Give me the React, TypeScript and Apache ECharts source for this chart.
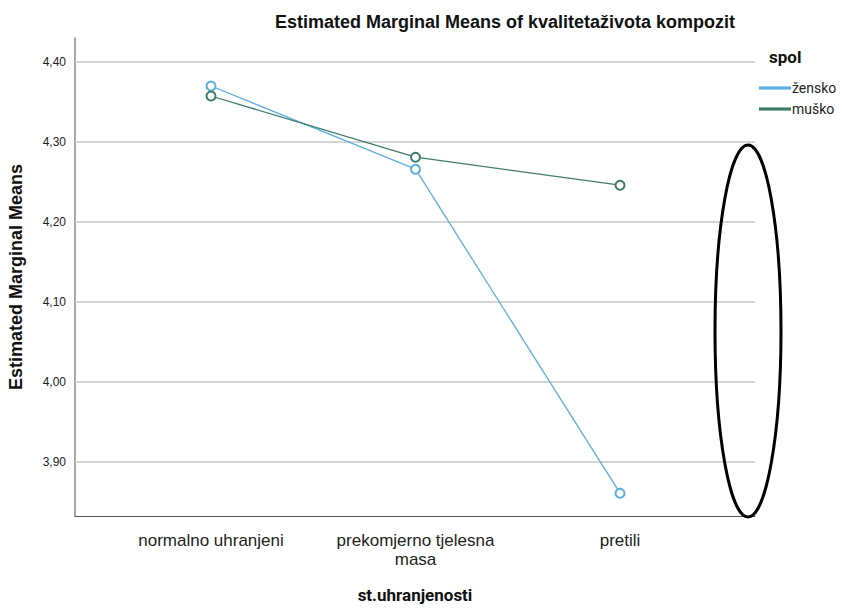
import React, { useEffect, useRef } from "react";
import * as echarts from "echarts";

const categories = ["normalno uhranjeni", "prekomjerno tjelesna\nmasa", "pretili"];
const zenskoValues = [4.37, 4.266, 3.861];
const muskoValues = [4.3575, 4.281, 4.246];
const seriesNames = ["žensko", "muško"];
const yTicks = [3.9, 4.0, 4.1, 4.2, 4.3, 4.4];

const ZENSKO_COLOR = "#5aaee0";
const MUSKO_COLOR = "#3e7d6c";

export default function App() {
  const ref = useRef<HTMLDivElement>(null);
  useEffect(() => {
    if (!ref.current) return;
    const chart = echarts.init(ref.current, null, { renderer: "svg" });
    const font = "Liberation Sans, Arial, sans-serif";
    const toPairs = (vals: number[]) => vals.map((v, i) => [i, v]);
    chart.setOption({
      animation: false,
      backgroundColor: "#ffffff",
      title: {
        text: "Estimated Marginal Means of kvalitetaživota kompozit",
        left: 500,
        top: 8,
        textAlign: "center",
        textStyle: { fontFamily: font, fontWeight: "bold", fontSize: 18, color: "#111" },
      },
      grid: { left: 75, right: 842 - 755, top: 38, bottom: 608 - 516, outerBoundsMode: "none", containLabel: false },
      legend: {
        orient: "vertical",
        left: 754,
        top: 76,
        icon: "rect",
        itemWidth: 30,
        itemHeight: 1.2,
        itemGap: 7,
        data: seriesNames,
        textStyle: { fontFamily: "Roboto, sans-serif", fontSize: 14, color: "#222", padding: [0, 0, 0, -3] },
      },
      xAxis: {
        type: "value",
        min: -0.665,
        max: 2.66,
        splitLine: { show: false },
        axisLine: { show: true, onZero: false, lineStyle: { color: "#555", width: 1 } },
        axisTick: { show: false },
        axisLabel: {
          customValues: [0, 1, 2],
          formatter: (v: number) => categories[Math.round(v)] ?? "",
          fontFamily: font,
          fontSize: 17,
          color: "#222",
          lineHeight: 19,
          margin: 15,
        },
        name: "st.uhranjenosti",
        nameLocation: "middle",
        nameGap: 70,
        nameTextStyle: { fontFamily: "Roboto, sans-serif", fontWeight: "bold", fontSize: 17, color: "#111" },
      },
      yAxis: {
        type: "value",
        min: 3.8325,
        max: 4.43,
        splitLine: { show: false },
        axisLine: { show: true, onZero: false, lineStyle: { color: "#888", width: 1.5 } },
        axisTick: { show: false },
        axisLabel: {
          customValues: yTicks,
          formatter: (v: number) => v.toFixed(2).replace(".", ","),
          fontFamily: font,
          fontSize: 12,
          color: "#222",
          margin: 9,
        },
        name: "Estimated Marginal Means",
        nameLocation: "middle",
        nameGap: 50,
        nameTextStyle: { fontFamily: font, fontWeight: "bold", fontSize: 18, color: "#111" },
      },
      series: [
        ...yTicks.map((t, k) => ({
          type: "line",
          name: "grid" + k,
          data: [[-0.665, t], [2.66, t]],
          symbol: "none",
          silent: true,
          lineStyle: { color: "#d4d4d4", width: 2 },
          z: 1,
        })),
        {
          type: "line",
          name: seriesNames[0],
          data: toPairs(zenskoValues),
          symbol: "emptyCircle",
          symbolSize: 9,
          color: ZENSKO_COLOR,
          lineStyle: { color: ZENSKO_COLOR, width: 1.3 },
          itemStyle: { color: ZENSKO_COLOR, borderColor: ZENSKO_COLOR, borderWidth: 1.3 },
          z: 3,
        },
        {
          type: "line",
          name: seriesNames[1],
          data: toPairs(muskoValues),
          symbol: "emptyCircle",
          symbolSize: 9,
          color: MUSKO_COLOR,
          lineStyle: { color: MUSKO_COLOR, width: 1.3 },
          itemStyle: { color: MUSKO_COLOR, borderColor: MUSKO_COLOR, borderWidth: 1.3 },
          z: 3,
        },
      ],
      graphic: [
        {
          type: "text",
          left: 769,
          top: 48,
          style: { text: "spol", fontFamily: "Roboto, sans-serif", fontWeight: "bold", fontSize: 17, fill: "#111" },
        },
        {
          type: "ellipse",
          shape: { cx: 748, cy: 331, rx: 33, ry: 186 },
          style: { fill: "none", stroke: "#000", lineWidth: 3 },
          z: 10,
        },
      ],
    });
    return () => chart.dispose();
  }, []);
  return <div ref={ref} style={{ width: 842, height: 608, position: "absolute", left: 0, top: 0 }} />;
}
